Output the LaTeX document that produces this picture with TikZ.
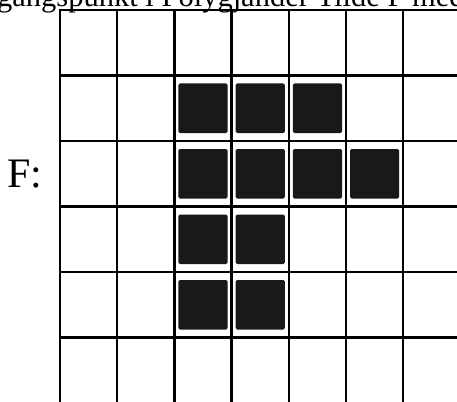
\documentclass[tikz,border=0pt]{standalone}
\usepackage{fontspec}
\setmainfont{Liberation Serif}
\begin{document}
\begin{tikzpicture}[x=1pt,y=-1pt,
  gridline/.style={line width=2.3pt, black},
  cell/.style={fill=black!90, rounded corners=1.5pt},
  toptext/.style={anchor=base west, inner sep=0pt, font=\fontsize{30.5}{32}\selectfont},
  label/.style={anchor=base west, inner sep=0pt, font=\fontsize{42}{42}\selectfont}]
\useasboundingbox (0,0) rectangle (457,401);
\clip (0,0) rectangle (457,401);
\node[toptext] (top) at (-3,7) {gangspunkt i Polygjander Tilde F med};
\foreach \i in {0,...,7} \draw[gridline] (60+57.2*\i,10) -- (60+57.2*\i,410);
\foreach \j in {0,...,6} \draw[gridline] (58.9,10+65.5*\j) -- (470,10+65.5*\j);
\foreach \c/\r in {2/1,3/1,4/1,2/2,3/2,4/2,5/2,2/3,3/3,2/4,3/4}
  \fill[cell] (60+57.2*\c+4,10+65.5*\r+8) rectangle ++(49.2,49.5);
\node[label] (flabel) at (7,187) {F:};
\end{tikzpicture}
\end{document}
